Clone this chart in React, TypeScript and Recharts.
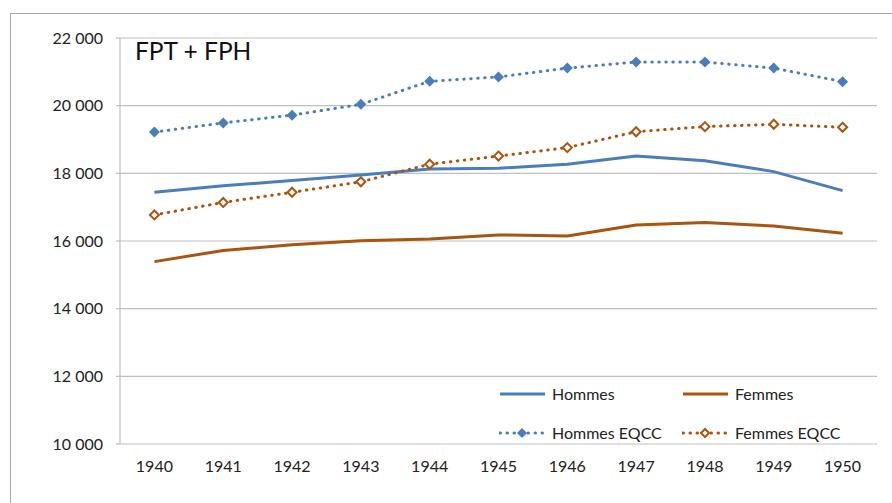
import { CartesianGrid, Line, LineChart, XAxis, YAxis } from "recharts";

const years = [1940, 1941, 1942, 1943, 1944, 1945, 1946, 1947, 1948, 1949, 1950];
const hommes = [17440, 17630, 17790, 17950, 18130, 18150, 18270, 18510, 18375, 18050, 17490];
const femmes = [15390, 15720, 15890, 16010, 16060, 16180, 16150, 16470, 16550, 16440, 16230];
const hommesEqcc = [19220, 19490, 19720, 20040, 20720, 20850, 21110, 21290, 21290, 21110, 20710];
const femmesEqcc = [16770, 17140, 17440, 17750, 18270, 18510, 18760, 19230, 19380, 19450, 19360];
const yTicks = [10000, 12000, 14000, 16000, 18000, 20000, 22000];
const boundaryTicks = [1939.5, ...years.map((y) => y + 0.5)];

const data = years.map((year, i) => ({
  year,
  hommes: hommes[i],
  femmes: femmes[i],
  hommesEqcc: hommesEqcc[i],
  femmesEqcc: femmesEqcc[i],
}));

const BLUE = "#4a7ebb";
const BROWN = "#a9540f";
const GRID = "#bfbfbf";
const FONT = "Lato, 'Open Sans', sans-serif";

type Series = { key: string; name: string; color: string; dotted: boolean; marker?: "filled" | "hollow" };
const series: Series[] = [
  { key: "hommes", name: "Hommes", color: BLUE, dotted: false },
  { key: "femmes", name: "Femmes", color: BROWN, dotted: false },
  { key: "hommesEqcc", name: "Hommes EQCC", color: BLUE, dotted: true, marker: "filled" },
  { key: "femmesEqcc", name: "Femmes EQCC", color: BROWN, dotted: true, marker: "hollow" },
];

function diamond(cx: number, cy: number, r: number) {
  return `${cx},${cy - r} ${cx + r},${cy} ${cx},${cy + r} ${cx - r},${cy}`;
}

function makeDot(color: string, kind: "filled" | "hollow") {
  return (props: any) => {
    const { cx, cy, index } = props;
    if (cx == null || cy == null) return <g key={index} />;
    return kind === "filled" ? (
      <polygon key={index} points={diamond(cx, cy, 5.5)} fill={color} stroke="none" />
    ) : (
      <polygon key={index} points={diamond(cx, cy, 4.5)} fill="#fff" stroke={color} strokeWidth={2} />
    );
  };
}

function fmt(v: number) {
  const s = String(v);
  return s.slice(0, s.length - 3) + " " + s.slice(-3);
}

// legend sits inside the plot, bottom right, 2x2 like the Excel original
function LegendBox() {
  return (
    <div
      style={{
        position: "absolute",
        left: 499,
        top: 374,
        display: "grid",
        gridTemplateColumns: "183px 160px",
        gridAutoRows: "39px",
        fontFamily: FONT,
        fontSize: 16,
        color: "#222",
      }}
    >
      {series.map((s) => (
        <div key={s.key} style={{ display: "flex", alignItems: "center" }}>
          <svg width={53} height={14}>
            <line
              x1={1}
              x2={46}
              y1={7}
              y2={7}
              stroke={s.color}
              strokeWidth={3}
              strokeDasharray={s.dotted ? "0.5 6.5" : undefined}
              strokeLinecap={s.dotted ? "round" : "butt"}
            />
            {s.marker === "filled" && <polygon points={diamond(23, 7, 5)} fill={s.color} />}
            {s.marker === "hollow" && (
              <polygon points={diamond(23, 7, 4)} fill="#fff" stroke={s.color} strokeWidth={2} />
            )}
          </svg>
          <span>{s.name}</span>
        </div>
      ))}
    </div>
  );
}

export default function App() {
  return (
    <div style={{ position: "absolute", left: 0, top: 0, width: 892, height: 503, background: "#fff", overflow: "hidden" }}>
      <div
        style={{
          position: "absolute",
          left: 10,
          top: 13,
          width: 900,
          height: 520,
          borderTop: "1.5px solid #a6a6a6",
          borderLeft: "1.5px solid #a6a6a6",
        }}
      />
      <LineChart
        width={892}
        height={503}
        data={data}
        margin={{ top: 38, right: 15, bottom: 29, left: 60 }}
        style={{ position: "absolute", left: 0, top: 0 }}
      >
        <CartesianGrid vertical={false} stroke={GRID} strokeWidth={1.2} />
        <XAxis
          xAxisId="bounds"
          dataKey="year"
          type="number"
          domain={[1939.5, 1950.5]}
          ticks={boundaryTicks}
          tickFormatter={() => ""}
          height={0}
          tickSize={6}
          tickLine={{ stroke: GRID, strokeWidth: 1.2 }}
          axisLine={{ stroke: GRID, strokeWidth: 1.2 }}
          interval={0}
        />
        <XAxis
          xAxisId="labels"
          dataKey="year"
          type="number"
          domain={[1939.5, 1950.5]}
          ticks={years}
          height={30}
          axisLine={false}
          tickLine={false}
          tickSize={0}
          tickMargin={17}
          interval={0}
          tick={{ fontSize: 16, fill: "#222", fontFamily: FONT }}
        />
        <YAxis
          domain={[10000, 22000]}
          ticks={yTicks}
          width={60}
          tickFormatter={fmt}
          tickSize={4}
          tickMargin={13}
          tickLine={{ stroke: GRID, strokeWidth: 1.2 }}
          axisLine={{ stroke: GRID, strokeWidth: 1.2 }}
          tick={{ fontSize: 16, fill: "#222", fontFamily: FONT }}
          interval={0}
        />
        {series.map((s) => (
          <Line
            key={s.key}
            xAxisId="bounds"
            dataKey={s.key}
            name={s.name}
            stroke={s.color}
            strokeWidth={3}
            strokeDasharray={s.dotted ? "0.5 6.5" : undefined}
            strokeLinecap={s.dotted ? "round" : "butt"}
            dot={s.marker ? makeDot(s.color, s.marker) : false}
            activeDot={false}
            isAnimationActive={false}
          />
        ))}
      </LineChart>
      <LegendBox />
      <div
        style={{
          position: "absolute",
          left: 135,
          top: 40,
          fontFamily: FONT,
          fontSize: 24.5,
          lineHeight: "22px",
          color: "#111",
        }}
      >
        FPT + FPH
      </div>
    </div>
  );
}
